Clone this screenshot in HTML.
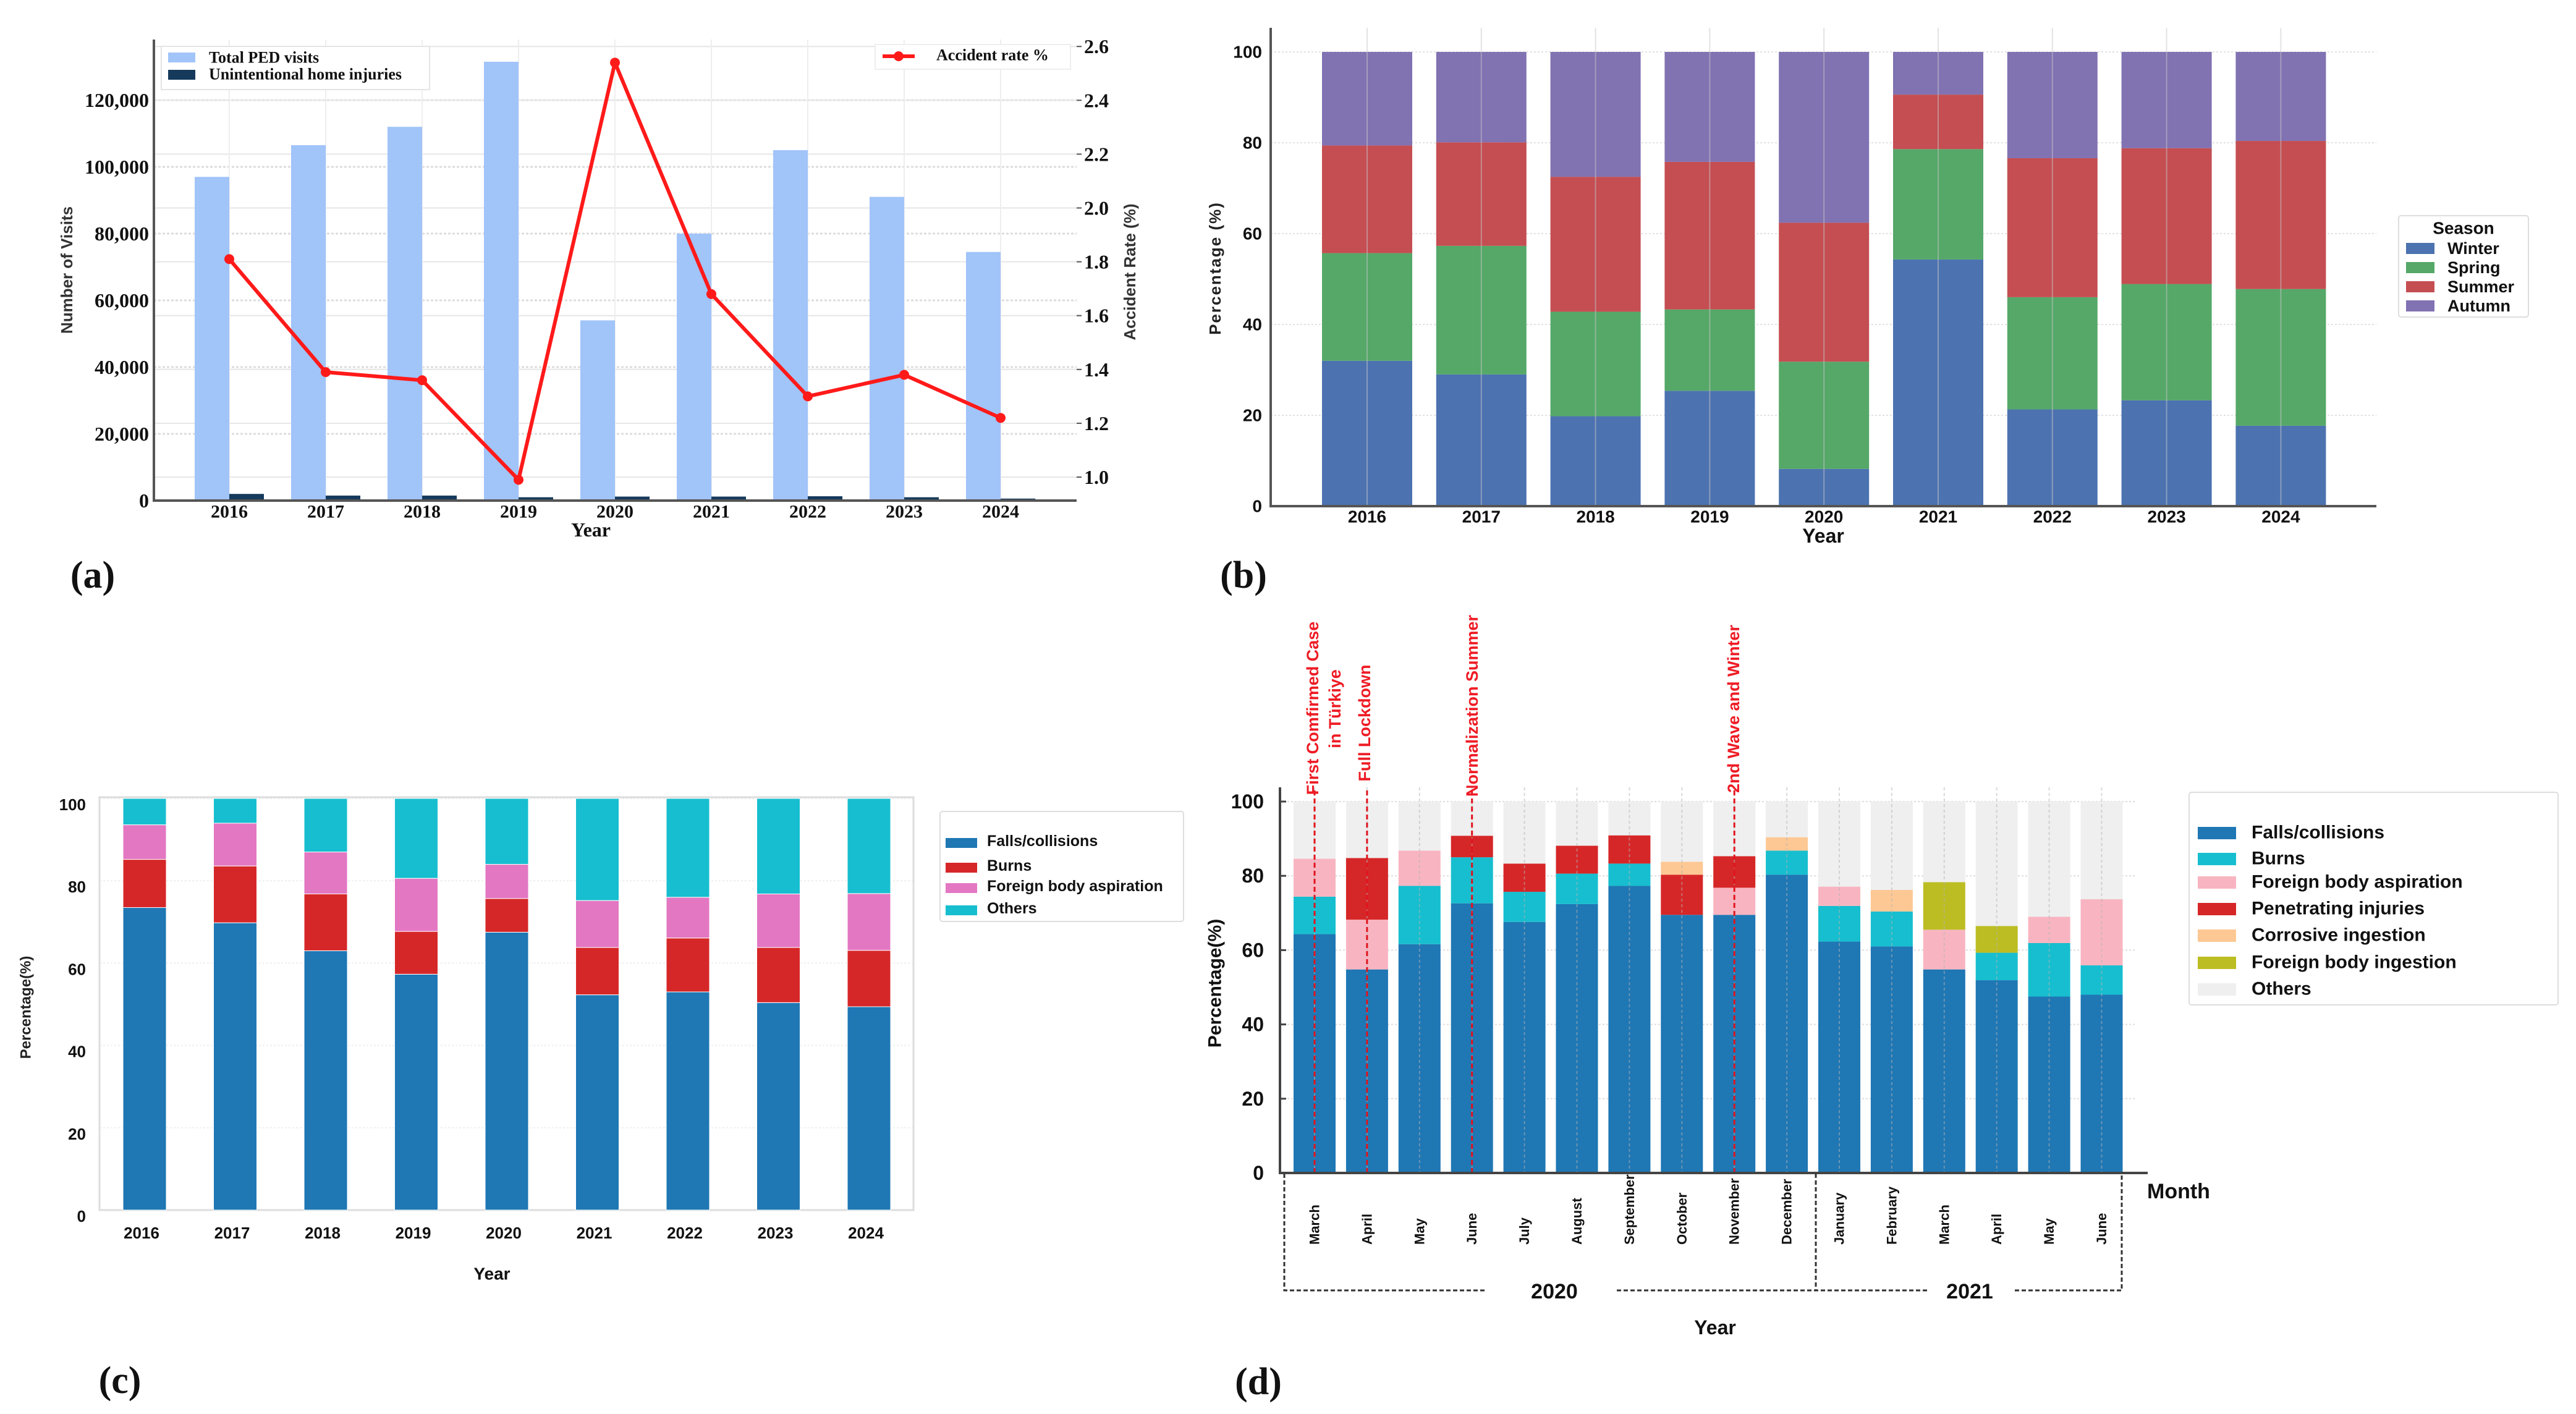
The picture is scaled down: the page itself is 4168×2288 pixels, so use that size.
<!DOCTYPE html>
<html><head><meta charset="utf-8">
<style>
html,body{margin:0;padding:0;background:#fff;}
svg{display:block;}
.serif{font-family:"Liberation Serif",serif;font-weight:bold;}
.sans{font-family:"Liberation Sans",sans-serif;font-weight:bold;}
.narrow{font-family:"Liberation Sans Narrow","Liberation Sans",sans-serif;font-weight:bold;}
</style></head>
<body>
<svg id="fig" xmlns="http://www.w3.org/2000/svg" width="4168" height="2288" viewBox="0 0 4168 2288">
<rect x="0" y="0" width="4168" height="2288" fill="#fff"/>
</svg>
<script>
// ---------- Panel (a) data ----------
const aYears = ["2016","2017","2018","2019","2020","2021","2022","2023","2024"];
const aTotal = [97000,106500,112000,131500,54000,80000,105000,91000,74500];
const aHome = [2000,1500,1500,1000,1200,1200,1300,1000,600];
const aRate = [1.81,1.39,1.36,0.99,2.54,1.68,1.30,1.38,1.22];
const aLeftTicks = [0,20000,40000,60000,80000,100000,120000];
const aLeftTickLabels = ["0","20,000","40,000","60,000","80,000","100,000","120,000"];
const aRightTicks = [1.0,1.2,1.4,1.6,1.8,2.0,2.2,2.4,2.6];
// ---------- Panel (b) data ----------
const bYears = ["2016","2017","2018","2019","2020","2021","2022","2023","2024"];
const bWinter = [32,29,19.8,25.4,8.2,54.3,21.3,23.3,17.7];
const bSpring = [23.7,28.3,23,17.9,23.6,24.3,24.7,25.6,30.1];
const bSummer = [23.7,22.8,29.7,32.5,30.6,12,30.6,29.9,32.6];
const bAutumn = [20.6,19.9,27.5,24.2,37.6,9.4,23.4,21.2,19.6];
const bTicks = [0,20,40,60,80,100];
// ---------- Panel (c) data ----------
const cYears = ["2016","2017","2018","2019","2020","2021","2022","2023","2024"];
const cFalls = [73.5,69.8,63,57.3,67.5,52.3,53,50.4,49.4];
const cBurns = [11.7,13.8,13.8,10.4,8.2,11.5,13.1,13.4,13.7];
const cFba = [8.4,10.4,10.2,12.9,8.3,11.4,9.9,13,13.8];
const cOthers = [6.4,6.0,13,19.4,16,24.8,24,23.2,23.1];
const cTicks = [0,20,40,60,80,100];
// ---------- Panel (d) data ----------
const dMonths = ["March","April","May","June","July","August","September","October","November","December","January","February","March","April","May","June"];
const dFalls = [64.3,54.8,61.6,72.6,67.6,72.4,77.3,69.5,69.5,80.3,62.3,61.0,54.8,51.9,47.5,48.0];
const dBurns = [10.1,0,15.7,12.4,8.1,8.2,6.0,0,0,6.5,9.6,9.4,0,7.4,14.4,7.9];
const dFba = [10.2,13.4,9.5,0,0,0,0,0,7.3,0,5.2,0,10.7,0,7.1,17.8];
const dPen = [0,16.6,0,5.8,7.6,7.5,7.6,10.8,8.5,0,0,0,0,0,0,0];
const dCorr = [0,0,0,0,0,0,0,3.5,0,3.6,0,5.8,0,0,0,0];
const dFbi = [0,0,0,0,0,0,0,0,0,0,0,0,12.8,7.2,0,0];
const dTicks = [0,20,40,60,80,100];
const dEventIdx = [0,1,3,8];

const NS = "http://www.w3.org/2000/svg";
const svg = document.getElementById('fig');
function mk(tag, attrs, parent){
  const e = document.createElementNS(NS, tag);
  for (const k in attrs) e.setAttribute(k, attrs[k]);
  (parent||svg).appendChild(e);
  return e;
}
function txt(x,y,s,cls,size,opts){
  opts = opts||{};
  const t = mk('text',{x:x,y:y,'class':cls,'font-size':size,'text-anchor':opts.anchor||'middle',fill:opts.fill||'#111','dominant-baseline':opts.base||'central'});
  if(opts.rot) t.setAttribute('transform','rotate('+opts.rot+' '+x+' '+y+')');
  if(opts.ls) t.setAttribute('letter-spacing',opts.ls);
  t.textContent = s;
  return t;
}

// ================= Panel (a) =================
(function(){
  const L=249,R=1742,T=64,B=810;
  const ya = v => B - v/20000*108;
  const yr = v => 772 - (v-1.0)/0.2*87.1;
  const xa = i => 371 + i*156;
  aLeftTicks.forEach((v,i)=>{
    const g = mk('line',{x1:L,x2:R,y1:ya(v),y2:ya(v),stroke:'#ddd','stroke-width':3,'stroke-dasharray':'4 3'});
    
    
    const t = txt(L-8,ya(v),aLeftTickLabels[i],'serif',32,{anchor:'end'});
    
    
  });
  aRightTicks.forEach(v=>{
    const g = mk('line',{x1:L,x2:R,y1:yr(v),y2:yr(v),stroke:'#e6e6e6','stroke-width':2});
    
    
    const tk = mk('line',{x1:R,x2:R+8,y1:yr(v),y2:yr(v),stroke:'#555','stroke-width':2});
    
    
    const t = txt(R+12,yr(v),v.toFixed(1),'serif',32,{anchor:'start'});
    
    
  });
  aYears.forEach((y,i)=>{
    const g = mk('line',{x1:xa(i),x2:xa(i),y1:T,y2:B,stroke:'#eee','stroke-width':2});
    
    
    const b1 = mk('rect',{x:xa(i)-56,y:ya(aTotal[i]),width:56,height:B-ya(aTotal[i]),fill:'#a1c4f9'});
    
    
    const b2 = mk('rect',{x:xa(i),y:ya(aHome[i]),width:56,height:B-ya(aHome[i]),fill:'#163a5c'});
    
    
    const t = txt(xa(i),828,y,'serif',30);
    
    
  });
  const pts = aRate.map((v,i)=>xa(i)+','+yr(v)).join(' ');
  const pl = mk('polyline',{points:pts,fill:'none',stroke:'#ff1a1a','stroke-width':6,'stroke-linejoin':'round'});
  
  
  aRate.forEach((v,i)=>{
    const c = mk('circle',{cx:xa(i),cy:yr(v),r:8,fill:'#ff1a1a'});
    
    
  });
  const ax = mk('path',{d:'M'+L+' '+T+' V'+B+' H'+R,fill:'none',stroke:'#555','stroke-width':4});
  
  
  let t = txt(956,857,'Year','serif',32);
  
  
  t = txt(108,437,'Number of Visits','sans',26,{rot:-90,fill:'#333'});
  
  
  t = txt(1828,440,'Accident Rate (%)','sans',26,{rot:-90,fill:'#333'});
  
  
  // legends
  const lg = mk('rect',{x:261,y:75,width:434,height:70,fill:'#fff',stroke:'#e4e4e4','stroke-width':2});
  
  
  let p = mk('rect',{x:272,y:85,width:44,height:16,fill:'#a1c4f9'});
  
  
  t = txt(338,93,'Total PED visits','serif',26,{anchor:'start'});
  
  
  p = mk('rect',{x:272,y:113,width:44,height:16,fill:'#163a5c'});
  
  
  t = txt(338,120,'Unintentional home injuries','serif',26,{anchor:'start'});
  
  
  const lg2 = mk('rect',{x:1416,y:72,width:316,height:40,fill:'#fff',stroke:'#eee','stroke-width':2});
  
  
  p = mk('line',{x1:1428,x2:1480,y1:91,y2:91,stroke:'#ff1a1a','stroke-width':6});
  
  
  p = mk('circle',{cx:1454,cy:91,r:8,fill:'#ff1a1a'});
  
  
  t = txt(1515,89,'Accident rate %','serif',26,{anchor:'start'});
  
  
  t = txt(150,931,'(a)','serif',62);
  
  
})();

// ================= Panel (b) =================
(function(){
  const L=2056,R=3845,T=45,B=819;
  const yb = v => B - v/20*147;
  const xb = i => 2212 + i*184.8;
  const W=146;
  bTicks.forEach(v=>{
    const g = mk('line',{x1:L,x2:R,y1:yb(v),y2:yb(v),stroke:'#e2e2e2','stroke-width':2,'stroke-dasharray':'3 3'});
    
    
    const t = txt(L-14,yb(v),String(v),'narrow',28,{anchor:'end'});
    
    
  });
  const series = [[bWinter,'#4c72b0','winter'],[bSpring,'#55a868','spring'],[bSummer,'#c44e52','summer'],[bAutumn,'#8172b2','autumn']];
  bYears.forEach((y,i)=>{
    let cum=0;
    series.forEach(s=>{
      const v=s[0][i];
      const r = mk('rect',{x:xb(i)-W/2,y:yb(cum+v),width:W,height:yb(cum)-yb(cum+v),fill:s[1]});
      
      
      cum+=v;
    });
    const g = mk('line',{x1:xb(i),x2:xb(i),y1:T,y2:B,stroke:'rgba(200,200,200,0.5)','stroke-width':2});
    
    
    const t = txt(xb(i),836,y,'narrow',28);
    
    
  });
  const ax = mk('path',{d:'M'+L+' '+T+' V'+B+' H'+R,fill:'none',stroke:'#555','stroke-width':4});
  
  
  let t = txt(2950,867,'Year','narrow',32);
  
  
  t = txt(1966,434,'Percentage (%)','sans',26,{rot:-90,fill:'#222',ls:2});
  
  
  const lg = mk('rect',{x:3881,y:349,width:210,height:164,fill:'#fff',stroke:'#ddd','stroke-width':2,rx:4});
  
  
  t = txt(3986,369,'Season','narrow',28);
  
  
  const names=['Winter','Spring','Summer','Autumn'];
  series.forEach((s,k)=>{
    const yy=402+k*31;
    const p = mk('rect',{x:3893,y:yy-9,width:46,height:18,fill:s[1]});
    
    
    const tt = txt(3960,yy,names[k],'narrow',27,{anchor:'start'});
    
    
  });
  t = txt(2012,931,'(b)','serif',62);
  
  
})();

// ================= Panel (c) =================
(function(){
  const L=161,R=1478,T=1290,B=1958;
  const yc = v => B - v/20*133.2;
  const xc = i => 234 + i*146.5;
  const W=70;
  cTicks.forEach(v=>{
    const g = mk('line',{x1:L,x2:R,y1:yc(v),y2:yc(v),stroke:'#eee','stroke-width':2,'stroke-dasharray':'3 3'});
    
    
    const t = txt(L-22,yc(v)+10,String(v),'narrow',26,{anchor:'end'});
    
    
  });
  const fr = mk('rect',{x:L,y:T,width:R-L,height:B-T,fill:'none',stroke:'#ddd','stroke-width':3});
  
  
  const series=[[cFalls,'#1f77b4','falls'],[cBurns,'#d62728','burns'],[cFba,'#e377c2','fba'],[cOthers,'#17becf','others']];
  cYears.forEach((y,i)=>{
    let cum=0;
    series.forEach(s=>{
      const v=s[0][i];
      const r = mk('rect',{x:xc(i)-W/2,y:yc(cum+v),width:W,height:yc(cum)-yc(cum+v),fill:s[1],stroke:'#fff','stroke-width':1});
      
      
      cum+=v;
    });
    const t = txt(xc(i)-5,1995,y,'narrow',26);
    
    
  });
  let t = txt(796,2061,'Year','narrow',28);
  
  
  t = txt(42,1630,'Percentage(%)','sans',24,{rot:-90,fill:'#222'});
  
  
  const lg = mk('rect',{x:1521,y:1313,width:394,height:178,fill:'#fff',stroke:'#ddd','stroke-width':2,rx:4});
  
  
  const names=['Falls/collisions','Burns','Foreign body aspiration','Others'];
  const ys=[1361,1401,1434,1470];
  series.forEach((s,k)=>{
    const p = mk('rect',{x:1530,y:ys[k]-5,width:51,height:16,fill:s[1]});
    
    
    const tt = txt(1597,ys[k],names[k],'narrow',25,{anchor:'start'});
    
    
  });
  t = txt(194,2234,'(c)','serif',62);
  
  
})();

// ================= Panel (d) =================
(function(){
  const L=2071,R=3455,T=1274,B=1898;
  const yd = v => B - v/20*120.2;
  const xd = i => 2127 + i*84.9;
  const W=68;
  dTicks.forEach(v=>{
    const g = mk('line',{x1:L,x2:R,y1:yd(v),y2:yd(v),stroke:'#ddd','stroke-width':2,'stroke-dasharray':'3 3'});
    
    
    const tk = mk('line',{x1:L,x2:L+10,y1:yd(v),y2:yd(v),stroke:'#444','stroke-width':3});
    
    
    const t = txt(L-26,yd(v),String(v),'narrow',32,{anchor:'end'});
    
    
  });
  const series=[[dFalls,'#1f77b4','falls'],[dBurns,'#17becf','burns'],[dFba,'#f8b5c1','fba'],[dPen,'#d62728','penetrating'],[dCorr,'#fdc894','corrosive'],[dFbi,'#bcbd22','fb-ingestion']];
  dMonths.forEach((m,i)=>{
    let cum=0;
    series.forEach(s=>{
      const v=s[0][i];
      if(v<=0) return;
      const r = mk('rect',{x:xd(i)-W/2,y:yd(cum+v),width:W,height:yd(cum)-yd(cum+v),fill:s[1]});
      
      
      cum+=v;
    });
    const o = mk('rect',{x:xd(i)-W/2,y:yd(100),width:W,height:yd(cum)-yd(100),fill:'#efefef'});
    
    
    const g = mk('line',{x1:xd(i),x2:xd(i),y1:T,y2:B,stroke:'rgba(180,180,180,0.5)','stroke-width':2,'stroke-dasharray':'5 4'});
    
    
    const t = txt(xd(i),2014,m,'sans',22,{anchor:'start',rot:-90});
    
    
  });
  dEventIdx.forEach(k=>{
    const ln = mk('line',{x1:xd(k),x2:xd(k),y1:1279,y2:B,stroke:'#e0141e','stroke-width':3,'stroke-dasharray':'8 5'});
    
    
  });
  const ax = mk('path',{d:'M'+L+' '+T+' V'+B+' H'+(R+20),fill:'none',stroke:'#444','stroke-width':4});
  
  
  // annotations
  let t;
  t = txt(2124,1146,'First Comfirmed Case','sans',27,{rot:-90,fill:'#ee1c25'});
  
  
  t = txt(2160,1147,'in Türkiye','sans',27,{rot:-90,fill:'#ee1c25'});
  
  
  t = txt(2208,1170,'Full Lockdown','sans',27,{rot:-90,fill:'#ee1c25'});
  
  
  t = txt(2382,1142,'Normalization Summer','sans',27,{rot:-90,fill:'#ee1c25'});
  
  
  t = txt(2805,1147,'2nd Wave and Winter','sans',27,{rot:-90,fill:'#ee1c25'});
  
  
  // year brackets
  const br = mk('path',{d:'M2078 1899 V2088 H2406 M2616 2088 H3119 M2938 1899 V2088 M3260 2088 H3433 V1899',fill:'none',stroke:'#333','stroke-width':3,'stroke-dasharray':'7 4'});
  
  
  t = txt(2515,2090,'2020','narrow',34);
  
  
  t = txt(3187,2090,'2021','narrow',34);
  
  
  t = txt(3474,1928,'Month','narrow',34,{anchor:'start'});
  
  
  t = txt(2775,2148,'Year','narrow',32);
  
  
  t = txt(1966,1591,'Percentage(%)','sans',30,{rot:-90,fill:'#111'});
  
  
  // legend
  const lg = mk('rect',{x:3542,y:1282,width:597,height:344,fill:'#fff',stroke:'#ddd','stroke-width':2,rx:4});
  
  
  const names=['Falls/collisions','Burns','Foreign body aspiration','Penetrating injuries','Corrosive ingestion','Foreign body ingestion','Others'];
  const cols=['#1f77b4','#17becf','#f8b5c1','#d62728','#fdc894','#bcbd22','#efefef'];
  const ys=[1347,1389,1427,1470,1513,1557,1600];
  names.forEach((n,k)=>{
    const p = mk('rect',{x:3556,y:ys[k]-9,width:62,height:20,fill:cols[k]});
    
    
    const tt = txt(3643,ys[k],n,'narrow',30,{anchor:'start'});
    
    
  });
  t = txt(2036,2236,'(d)','serif',62);
  
  
})();
</script>
</body></html>
